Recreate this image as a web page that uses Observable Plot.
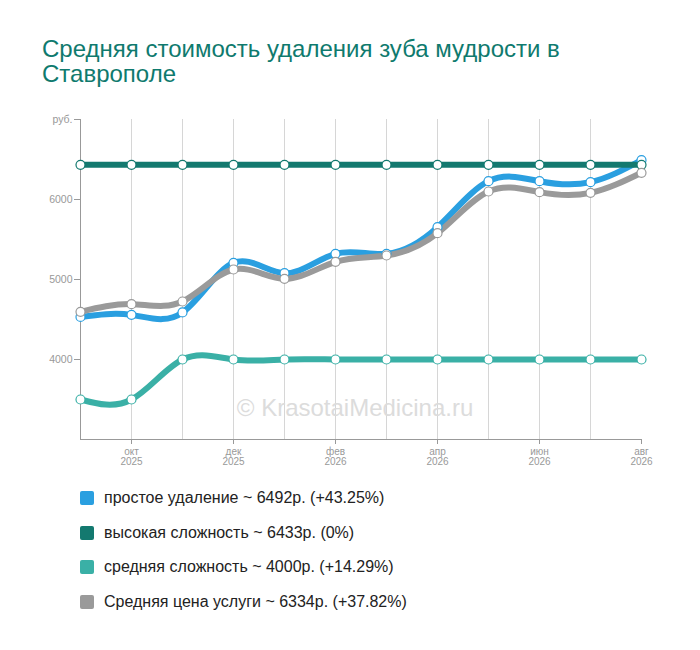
<!DOCTYPE html>
<html>
<head>
<meta charset="utf-8">
<script src="https://cdn.jsdelivr.net/npm/d3@7"></script>
<script src="https://cdn.jsdelivr.net/npm/@observablehq/plot@0.6"></script>
<style>
  body { margin: 0; background: #fff; font-family: "Liberation Sans", Arial, sans-serif; }
  #wrap { position: relative; width: 700px; height: 650px; }
  #title { position: absolute; left: 42px; top: 36px; font-size: 24px; line-height: 25px; color: #0f7a6e; white-space: nowrap; }
  #chart { position: absolute; left: 0; top: 100px; }
  #legend { position: absolute; left: 80px; top: 481px; }
  .item { display: flex; align-items: center; height: 34.5px; font-size: 16px; color: #222; }
  .sw { width: 14px; height: 14px; border-radius: 2px; margin-right: 10px; }
</style>
</head>
<body>
<div id="wrap">
  <div id="title">Средняя стоимость удаления зуба мудрости в<br>Ставрополе</div>
  <div id="chart"></div>
  <div id="legend"></div>
</div>
<script>
const months = ["2025-09","2025-10","2025-11","2025-12","2026-01","2026-02","2026-03","2026-04","2026-05","2026-06","2026-07","2026-08"];
const monthNames = ["сен","окт","ноя","дек","янв","фев","мар","апр","май","июн","июл","авг"];
const seriesNames = ["простое удаление","высокая сложность","средняя сложность","Средняя цена услуги"];
const seriesColors = ["#2a9fe0","#13796f","#3ab0a6","#9a9a9a"];
const simple = [4532,4558,4588,5208,5079,5321,5321,5654,6229,6229,6217,6492];
const high   = [6433,6433,6433,6433,6433,6433,6433,6433,6433,6433,6433,6433];
const medium = [3500,3500,4000,4000,4000,4000,4000,4000,4000,4000,4000,4000];
const avg    = [4596,4692,4725,5125,5008,5221,5300,5579,6100,6092,6083,6334];
const legendTexts = [
  "простое удаление ~ 6492р. (+43.25%)",
  "высокая сложность ~ 6433р. (0%)",
  "средняя сложность ~ 4000р. (+14.29%)",
  "Средняя цена услуги ~ 6334р. (+37.82%)"
];
const yTicks = [4000,5000,6000,7000];
const watermark = "© KrasotaiMedicina.ru";

const seriesValues = [simple, high, medium, avg];
const data = [];
seriesValues.forEach((vals, si) => vals.forEach((v, i) => data.push({series: seriesNames[si], month: months[i], value: v})));

const labelOf = m => { const i = months.indexOf(m); return monthNames[i] + "\n" + m.slice(0,4); };

const chart = Plot.plot({
  width: 700,
  height: 380,
  marginLeft: 80,
  marginRight: 59,
  marginTop: 19,
  marginBottom: 41,
  style: {fontFamily: "'Liberation Sans', Arial, sans-serif", background: "transparent"},
  x: {type: "point", domain: months, padding: 0},
  y: {domain: [3000, 7000]},
  color: {domain: seriesNames, range: seriesColors},
  marks: [
    Plot.ruleY(yTicks.slice(0,3), {x1: months[0], x2: months[months.length-1], stroke: "#d6d6d6", strokeWidth: 1}),
    Plot.ruleX(months.slice(1, months.length-1), {y1: 3000, y2: 7000, stroke: "#d6d6d6", strokeWidth: 1}),
    Plot.ruleX([months[0]], {y1: 3000, y2: 7000, stroke: "#999", strokeWidth: 1}),
    Plot.ruleY([3000], {stroke: "#999", strokeWidth: 1}),
    Plot.axisY({ticks: yTicks, tickFormat: d => d === 7000 ? "руб." : String(d), tickSize: 6, tickPadding: 2, stroke: "#999", color: "#999", fontSize: 10.5, label: null}),
    Plot.axisX({ticks: months.filter((m, i) => i % 2 === 1), tickFormat: labelOf, tickSize: 5, tickPadding: 3, stroke: "#999", color: "#999", fontSize: 10, label: null}),
    Plot.text([watermark], {frameAnchor: "middle", dx: -6, dy: 129, fill: "#dcdcdc", fontSize: 24}),
    Plot.line(data, {x: "month", y: "value", z: "series", stroke: "series", strokeWidth: 6, curve: "natural"}),
    Plot.dot(data, {x: "month", y: "value", stroke: "series", fill: "white", r: 4.5, strokeWidth: 1.2})
  ]
});
document.getElementById("chart").appendChild(chart);

const legend = document.getElementById("legend");
seriesNames.forEach((s, i) => {
  const row = document.createElement("div");
  row.className = "item";
  const sw = document.createElement("span");
  sw.className = "sw";
  sw.style.background = seriesColors[i];
  const t = document.createElement("span");
  t.textContent = legendTexts[i];
  row.appendChild(sw); row.appendChild(t);
  legend.appendChild(row);
});
</script>
</body>
</html>
